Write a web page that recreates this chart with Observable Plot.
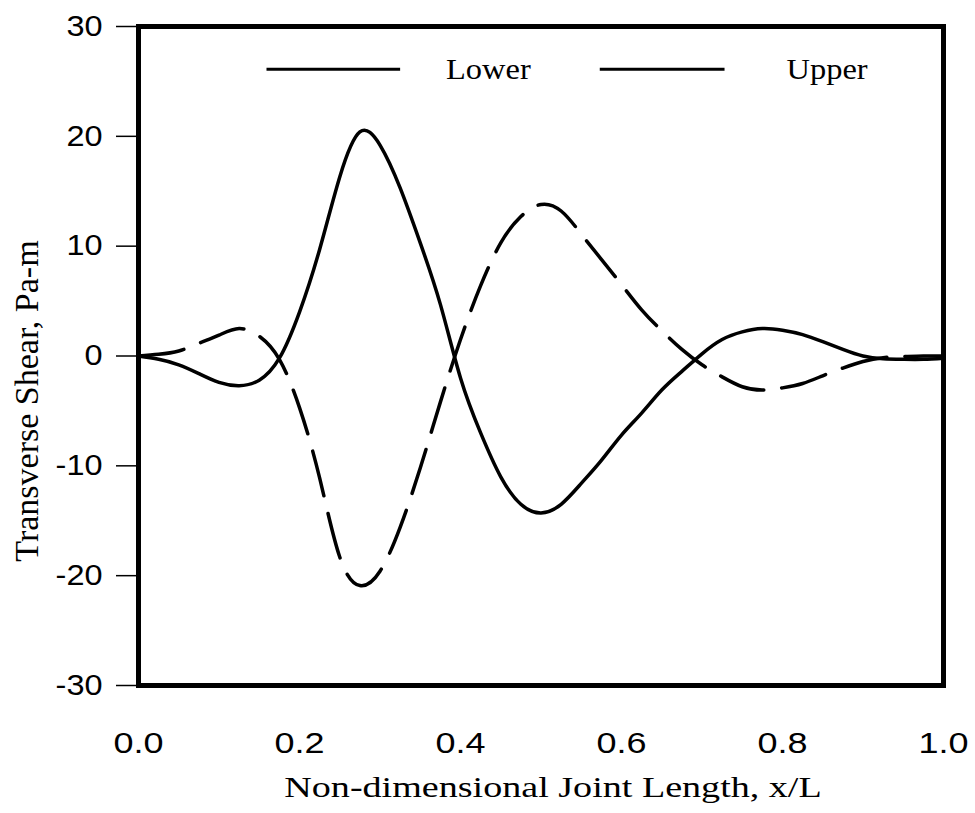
<!DOCTYPE html>
<html>
<head>
<meta charset="utf-8">
<script src="https://cdn.jsdelivr.net/npm/d3@7"></script>
<script src="https://cdn.jsdelivr.net/npm/@observablehq/plot@0.6"></script>
<style>
  html, body { margin: 0; padding: 0; background: #fff; }
  #chart svg { display: block; }
</style>
</head>
<body>
<div id="chart"></div>
<script>
// x/L positions
const xL = [0, 0.025, 0.05, 0.075, 0.1, 0.125, 0.15, 0.175, 0.2, 0.225, 0.25, 0.275, 0.3, 0.325, 0.35, 0.375, 0.4, 0.425, 0.45, 0.475, 0.5, 0.525, 0.55, 0.575, 0.6, 0.625, 0.65, 0.675, 0.7, 0.725, 0.75, 0.775, 0.8, 0.825, 0.85, 0.875, 0.9, 0.925, 0.95, 0.975, 1.0];
// Transverse shear, Pa-m
const lower = [0, -0.3, -0.8, -1.6, -2.4, -2.7, -2.2, -0.2, 4.0, 9.7, 16.3, 20.4, 19.2, 15.3, 10.3, 4.7, -2.0, -7.0, -11.0, -13.5, -14.3, -13.5, -11.6, -9.5, -7.2, -5.2, -3.1, -1.4, 0.2, 1.5, 2.2, 2.5, 2.35, 1.95, 1.3, 0.6, 0.0, -0.25, -0.3, -0.3, -0.2];
const upper = [0, 0.15, 0.45, 1.15, 1.9, 2.5, 1.8, -0.3, -4.7, -11.1, -18.3, -20.9, -19.6, -15.6, -10.2, -4.2, 1.5, 6.4, 10.3, 12.7, 13.8, 13.2, 11.1, 8.8, 6.5, 4.2, 2.3, 0.6, -0.8, -1.9, -2.8, -3.1, -2.9, -2.5, -1.8, -1.1, -0.5, -0.15, -0.05, 0, 0];
const seriesNames = ["Lower", "Upper"];
const xTicks = [0, 0.2, 0.4, 0.6, 0.8, 1.0];
const yTicks = [-30, -20, -10, 0, 10, 20, 30];
const xTitle = "Non-dimensional Joint Length, x/L";
const yTitle = "Transverse Shear, Pa-m";
// legend sample segments (data units)
const legendX1 = [0.159, 0.573];
const legendX2 = [0.325, 0.728];
const legendTextX = [0.382, 0.805];
const legendY = 26.1;

const rows = [];
xL.forEach((x, i) => {
  rows.push({x, v: lower[i], s: "Lower"});
  rows.push({x, v: upper[i], s: "Upper"});
});
const legend = seriesNames.map((s, i) => ({s, x1: legendX1[i], x2: legendX2[i], tx: legendTextX[i], y: legendY}));

const serif = "'Liberation Serif', 'Times New Roman', serif";
const sans = "'Liberation Sans', Arial, sans-serif";

const chart = Plot.plot({
  width: 975,
  height: 813,
  marginLeft: 138,
  marginRight: 32,
  marginTop: 26,
  marginBottom: 128,
  style: {background: "#fff", color: "#000"},
  x: {domain: [0, 1]},
  y: {domain: [-30, 30]},
  marks: [
    Plot.axisY({ticks: yTicks, tickFormat: d => String(d), tickSize: 22, tickPadding: 14, strokeWidth: 1.5,
      fontSize: 29, fontFamily: sans, label: null}),
    Plot.axisX({ticks: xTicks, tickFormat: d3.format(".1f"), tickSize: 0, tickPadding: 46,
      fontSize: 30, fontFamily: sans, label: null}),
    Plot.line(rows.filter(d => d.s === "Lower"), {x: "x", y: "v", stroke: "#000", strokeWidth: 3.5, curve: "natural"}),
    Plot.line(rows.filter(d => d.s === "Upper"), {x: "x", y: "v", stroke: "#000", strokeWidth: 3.5, curve: "natural", strokeDasharray: "46,18"}),
    Plot.link(legend, {x1: "x1", x2: "x2", y1: "y", y2: "y", stroke: "#000", strokeWidth: 3,
      strokeDasharray: d => d.s === "Upper" ? "53,18" : null}),
    Plot.text(legend, {x: "tx", y: "y", text: "s", textAnchor: "start", fontSize: 29, fontFamily: serif, fill: "#000"}),
    Plot.frame({stroke: "#000", strokeWidth: 5}),
    Plot.text([xTitle], {frameAnchor: "bottom", dx: 12, dy: 111, fontSize: 30, fontFamily: serif, fill: "#000"}),
    Plot.text([yTitle], {frameAnchor: "left", textAnchor: "middle", dx: -111, dy: 45, rotate: -90, fontSize: 34, fontFamily: serif, fill: "#000"})
  ]
});
// the reference's lettering is horizontally wide: stretch some labels
function stretch(t, k) {
  const tr = t.getAttribute("transform");
  if (tr) {
    t.setAttribute("transform", tr + ` scale(${k},1)`);
  } else {
    const x = +t.getAttribute("x") || 0, y = +t.getAttribute("y") || 0;
    t.removeAttribute("x"); t.removeAttribute("y");
    t.setAttribute("transform", `translate(${x},${y}) scale(${k},1)`);
  }
}
chart.querySelectorAll('g[aria-label="x-axis tick label"] text').forEach(t => stretch(t, 1.2));
chart.querySelectorAll('g[aria-label="y-axis tick label"] text').forEach(t => stretch(t, 1.12));
chart.querySelectorAll('text').forEach(t => {
  const s = t.textContent;
  if (s === xTitle) stretch(t, 1.27);
  else if (seriesNames.includes(s)) stretch(t, 1.12);
});
document.getElementById("chart").appendChild(chart);
</script>
</body>
</html>
